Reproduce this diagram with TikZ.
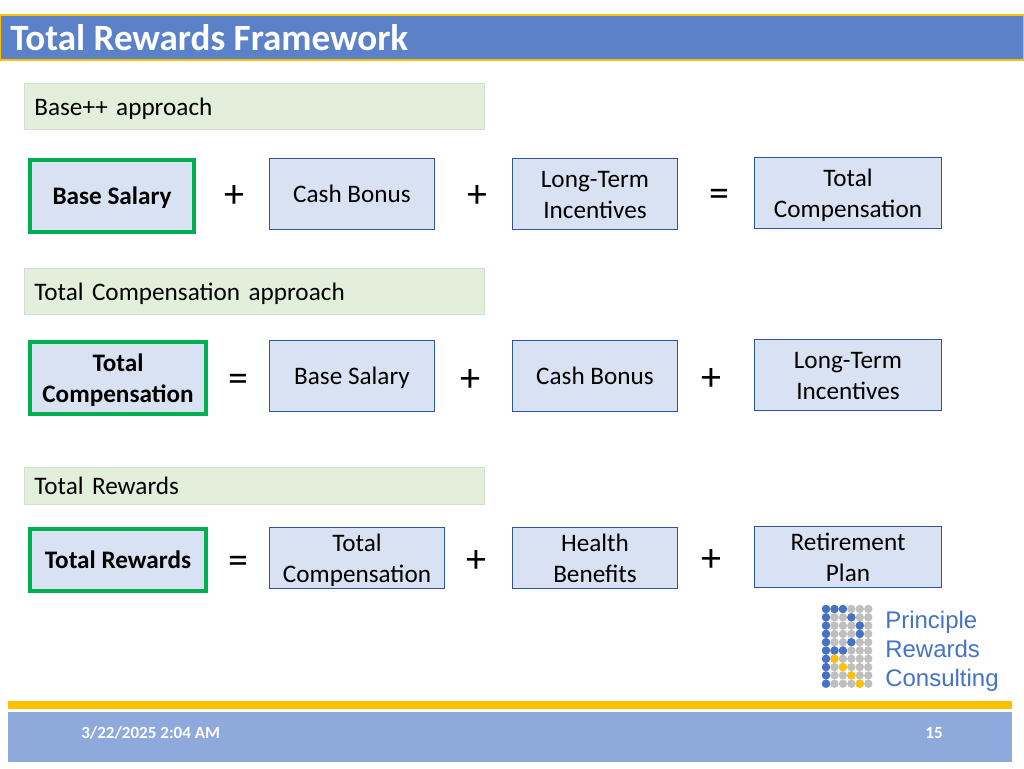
\documentclass[tikz,border=0pt]{standalone}
\usepackage{fontspec}
\setmainfont{Carlito}
\newfontfamily\logofont{Liberation Sans}
\definecolor{tituloazul}{HTML}{5B82C9}
\definecolor{amarillo}{HTML}{FFC000}
\definecolor{verdeclaro}{HTML}{E2EFDA}
\definecolor{grisborde}{HTML}{D5DDD0}
\definecolor{cajaazul}{HTML}{D9E2F3}
\definecolor{bordeazul}{HTML}{2F5597}
\definecolor{verde}{HTML}{00B050}
\definecolor{pieazul}{HTML}{8EA9DB}
\definecolor{logoazul}{HTML}{4472C4}
\definecolor{logogris}{HTML}{BFBFBF}

\begin{document}
\begin{tikzpicture}[   % pixels of the slide, y going down
      x=0.75pt,
      y=-0.75pt,
      font=\fontsize{18.9}{23.25}\selectfont,
      every node/.style={align=center, inner sep=0pt}
    ]
    \tikzstyle{heading}=[draw=grisborde, fill=verdeclaro, line width=0.8pt, minimum height=35pt, minimum width=345.5pt, anchor=west, text width=330pt, align=left, text height=13pt, text depth=0pt];
    \tikzstyle{part}=[draw=bordeazul, fill=cajaazul, line width=0.9pt];
    \tikzstyle{lead}=[draw=verde, fill=cajaazul, line width=2.8pt, font=\fontsize{18.9}{23.25}\selectfont\bfseries];
    \tikzstyle{single}=[text height=12pt, text depth=0pt];
    \tikzstyle{double}=[text height=36pt, text depth=0pt];
    \tikzstyle{oper}=[font=\fontsize{30}{30}\selectfont];
    \tikzstyle{dot}=[circle, minimum size=6.3pt];
    \tikzstyle{logoline}=[anchor=base west, text=logoazul, font=\fontsize{18}{21.6}\selectfont\logofont];
    %
    \useasboundingbox (0,0) rectangle (1024,768);
    %
    % title bar
    \node [draw=amarillo, fill=tituloazul, line width=1.2pt, minimum width=767pt, minimum height=33.5pt] (bar) at (512,37.5) {};
    \node [anchor=west, text=white, font=\fontsize{27.8}{30}\selectfont\bfseries] (title) at (10,38) {Total Rewards Framework};
    %
    % Base++ row
    \node [heading] (head1) at (23.5,106.5) {Base++ approach};
    \node [lead, single, minimum width=123.5pt, minimum height=53.5pt] (base1) at (112,196) {Base Salary};
    \node [oper] (op11) at (234,196) {+};
    \node [part, single, minimum width=124pt, minimum height=53.5pt] (cash1) at (352,194) {Cash Bonus};
    \node [oper] (op12) at (477,196) {+};
    \node [part, double, minimum width=124pt, minimum height=53.5pt] (long1) at (595,194) {Long-Term\\Incentives};
    \node [oper] (op13) at (719,198) {=};
    \node [part, double, minimum width=140.5pt, minimum height=53.5pt] (comp1) at (848,193) {Total\\Compensation};
    %
    % Total Compensation row
    \node [heading] (head2) at (23.5,291.5) {Total Compensation approach};
    \node [lead, double, minimum width=132.5pt, minimum height=54pt] (comp2) at (118,378) {Total\\Compensation};
    \node [oper] (op21) at (238,383) {=};
    \node [part, single, minimum width=124pt, minimum height=53.5pt] (base2) at (352,376) {Base Salary};
    \node [oper] (op22) at (470,380) {+};
    \node [part, single, minimum width=124pt, minimum height=53.5pt] (cash2) at (595,376) {Cash Bonus};
    \node [oper] (op23) at (711,379) {+};
    \node [part, double, minimum width=140.5pt, minimum height=53.5pt] (long2) at (848,375) {Long-Term\\Incentives};
    %
    % Total Rewards row
    \node [heading, minimum height=28pt] (head3) at (23.5,486) {Total Rewards};
    \node [lead, single, minimum width=132.5pt, minimum height=47pt] (rew3) at (118,560) {Total Rewards};
    \node [oper] (op31) at (238,565) {=};
    \node [part, double, minimum width=131.5pt, minimum height=46pt] (comp3) at (357,558) {Total\\Compensation};
    \node [oper] (op32) at (476,561) {+};
    \node [part, double, minimum width=124pt, minimum height=46pt] (health3) at (595,558) {Health\\Benefits};
    \node [oper] (op33) at (711,560) {+};
    \node [part, double, minimum width=140.5pt, minimum height=46pt] (ret3) at (848,557) {Retirement\\Plan};
    %
    % logo dots
    \foreach \r in {0,...,9}
      \foreach \c in {0,...,5}
        \node [dot, fill=logogris] (d\r\c) at (826+8.45*\c,609+8.3*\r) {};
    \foreach \r/\c in {0/0,0/1,0/2,1/0,1/3,2/0,2/4,3/0,3/4,4/0,4/3,5/0,5/1,5/2,6/0,7/0,8/0,9/0}
      \node [dot, fill=logoazul] at (d\r\c) {};
    \foreach \r/\c in {6/1,7/2,8/3,9/4}
      \node [dot, fill=amarillo] at (d\r\c) {};
    \node [logoline] (logo1) at (885,628) {Principle};
    \node [logoline] (logo2) at (885,657) {Rewards};
    \node [logoline] (logo3) at (885,686) {Consulting};
    %
    % footer
    \node [fill=amarillo, minimum width=753pt, minimum height=6.4pt] (strip) at (510,705) {};
    \node [fill=pieazul, minimum width=753pt, minimum height=37.5pt] (foot) at (510,737) {};
    \node [anchor=west, text=white, font=\fontsize{12.8}{14}\selectfont\bfseries] (date) at (81,733) {3/22/2025 2:04 AM};
    \node [text=white, font=\fontsize{12.8}{14}\selectfont\bfseries] (page) at (934,733) {15};
  \end{tikzpicture}
\end{document}
